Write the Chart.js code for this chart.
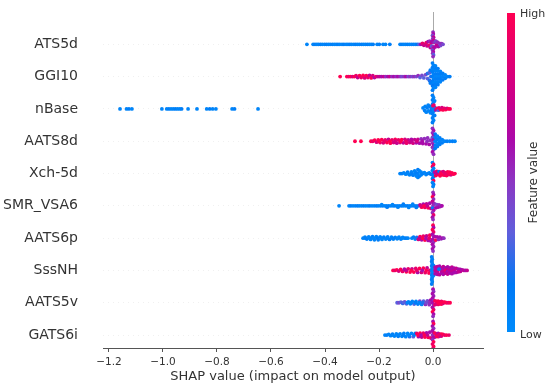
<!DOCTYPE html>
<html>
<head>
<meta charset="utf-8">
<script src="https://cdn.jsdelivr.net/npm/chart.js@4.4.1/dist/chart.umd.min.js"></script>
<style>
  body { margin: 0; background: #fff; }
  #wrap { width: 550px; height: 388px; }
</style>
</head>
<body>
<div id="wrap"><canvas id="shapChart" width="550" height="388"></canvas></div>
<script>
// features, top to bottom
const features = ['ATS5d', 'GGI10', 'nBase', 'AATS8d', 'Xch-5d', 'SMR_VSA6', 'AATS6p', 'SssNH', 'AATS5v', 'GATS6i'];
const xTicks = [-1.2, -1.0, -0.8, -0.6, -0.4, -0.2, 0.0];

// each point: [shap value, vertical jitter (rows), feature value 0..1]
const ATS5d = [
  [-0.467,0,0.05],
  [-0.444,0,0.05],[-0.437,0,0.1],[-0.430,0,0.05],[-0.424,0,0.05],[-0.417,0,0.1],[-0.410,0,0.05],[-0.402,0,0.05],[-0.395,0,0.1],
  [-0.388,0,0.05],[-0.381,0,0.05],[-0.373,0,0.1],[-0.366,0,0.05],[-0.359,0,0.05],[-0.352,0,0.1],[-0.345,0,0.05],[-0.337,0,0.05],
  [-0.330,0,0.1],[-0.322,0,0.05],[-0.315,0,0.05],[-0.308,0,0.1],[-0.301,0,0.05],[-0.293,0,0.05],[-0.286,0,0.1],[-0.279,0,0.05],
  [-0.272,0,0.05],[-0.264,0,0.1],[-0.257,0,0.05],[-0.250,0,0.05],[-0.243,0,0.1],[-0.236,0,0.05],[-0.229,0,0.05],[-0.222,0,0.1],
  [-0.207,0,0.05],[-0.199,0,0.1],[-0.185,0,0.05],[-0.176,0,0.05],[-0.160,0,0.1],
  [-0.122,0,0.05],[-0.115,0,0.1],[-0.108,0,0.05],[-0.101,0,0.05],[-0.094,0,0.1],[-0.087,0,0.05],[-0.080,0,0.05],[-0.073,0,0.1],
  [-0.066,0,0.05],[-0.059,0,0.15],[-0.052,0,0.3],[-0.045,0,0.6],[-0.039,0.03,0.9],[-0.034,-0.03,0.7],
  [-0.030,0,0.8],[-0.025,0.05,0.9],[-0.022,-0.05,0.7],[-0.018,0.08,0.6],[-0.015,-0.03,0.9],[-0.012,0.1,0.5],[-0.010,-0.1,0.7],
  [-0.007,0.04,0.8],[-0.005,-0.06,0.3],
  [0.000,0.38,0.5],[0.001,0.32,0.6],[-0.002,0.27,0.4],[0.002,0.22,0.7],[-0.001,0.17,0.5],[0.003,0.12,0.8],[-0.003,0.08,0.6],
  [0.000,-0.08,0.5],[0.002,-0.13,0.7],[-0.002,-0.18,0.4],[0.001,-0.23,0.6],[-0.001,-0.28,0.5],[0.002,-0.33,0.3],[0.000,-0.38,0.5],
  [0.005,0.06,0.5],[0.008,-0.08,0.6],[0.010,0.1,0.4],[0.013,-0.02,0.7],[0.016,0.07,0.5],[0.020,-0.07,0.6],[0.024,0.03,0.5],
  [0.028,-0.04,0.4],[0.032,0.02,0.5],[0.037,0,0.4]
];
const GGI10 = [
  [-0.344,0,1],[-0.319,0,1],[-0.312,0,0.9],[-0.305,0,1],[-0.298,0,0.8],[-0.291,0,1],[-0.285,0.03,0.9],[-0.279,-0.03,0.7],
  [-0.272,0.03,1],[-0.266,-0.03,0.9],[-0.259,0.04,1],[-0.253,-0.04,0.8],[-0.247,0.03,1],[-0.241,-0.03,0.9],[-0.235,0.04,0.7],
  [-0.229,-0.04,1],[-0.223,0.03,0.8],[-0.217,-0.03,0.6],[-0.211,0,0.9],[-0.204,0,0.7],
  [-0.197,0,0.7],[-0.190,0,0.6],[-0.182,0,0.7],[-0.175,0,0.5],[-0.167,0,0.6],[-0.160,0,0.7],[-0.152,0,0.5],[-0.145,0,0.6],
  [-0.137,0,0.5],[-0.130,0,0.6],[-0.122,0,0.5],[-0.115,0,0.4],[-0.107,0,0.5],[-0.100,0,0.6],[-0.092,0,0.4],[-0.085,0,0.5],
  [-0.077,0,0.4],[-0.070,0,0.5],[-0.062,0,0.4],[-0.055,0.03,0.5],[-0.048,-0.03,0.3],[-0.041,0.04,0.4],[-0.034,-0.04,0.3],
  [-0.027,0.06,0.4],[-0.020,-0.06,0.3],[-0.020,0.1,0.2],[-0.013,0.12,0.3],[-0.013,-0.12,0.2],[-0.010,0.2,0.1],[-0.010,-0.2,0.1],
  [-0.008,0,0.2],
  [-0.002,0.42,0.1],[0.002,0.35,0.05],[-0.002,0.28,0.1],[0.002,0.21,0.05],[-0.002,0.14,0.1],[0.002,0.07,0.05],[-0.002,0,0.1],
  [0.002,-0.07,0.05],[-0.002,-0.14,0.1],[0.002,-0.21,0.05],[-0.002,-0.28,0.15],[0.002,-0.35,0.05],[-0.002,-0.42,0.1],
  [0.009,0.33,0.05],[0.009,0.25,0.1],[0.009,0.17,0.05],[0.009,0.08,0.1],[0.009,0,0.05],[0.009,-0.08,0.1],[0.009,-0.17,0.05],
  [0.009,-0.25,0.1],[0.009,-0.33,0.05],
  [0.018,0.25,0.1],[0.018,0.17,0.05],[0.018,0.08,0.1],[0.018,0,0.05],[0.018,-0.08,0.1],[0.018,-0.17,0.05],[0.018,-0.25,0.1],
  [0.027,0.16,0.05],[0.027,0.08,0.1],[0.027,0,0.05],[0.027,-0.08,0.1],[0.027,-0.16,0.05],
  [0.036,0.1,0.1],[0.036,0,0.05],[0.036,-0.1,0.1],[0.045,0.05,0.05],[0.045,-0.05,0.1],[0.054,0,0.05],[0.062,0,0.1]
];
const nBase = [
  [-1.159,0,0.05],[-1.135,0,0.05],[-1.126,0,0.1],[-1.115,0,0.05],[-1.004,0,0.05],[-0.986,0,0.05],[-0.978,0,0.1],[-0.970,0,0.05],
  [-0.962,0,0.05],[-0.954,0,0.1],[-0.946,0,0.05],[-0.938,0,0.05],[-0.931,0,0.1],[-0.907,0,0.05],[-0.874,0,0.05],[-0.838,0,0.05],
  [-0.827,0,0.1],[-0.816,0,0.05],[-0.804,0,0.05],[-0.744,0,0.05],[-0.735,0,0.1],[-0.648,0,0.05],
  [-0.037,0.03,0.05],[-0.031,-0.05,0.1],[-0.029,0.08,0.05],[-0.025,-0.1,0.05],[-0.022,0.03,0.1],[-0.018,0.12,0.05],
  [-0.016,-0.06,0.05],[-0.012,0.08,0.1],[-0.010,-0.12,0.05],[-0.006,0.02,0.05],[-0.005,-0.04,0.15],
  [-0.002,0.42,0.1],[0.002,0.35,0.05],[-0.002,0.28,0.1],[0.002,0.21,0.05],[-0.002,0.14,0.1],[0.001,0.07,0.15],
  [-0.002,0,0.1],[0.002,-0.07,0.05],[-0.002,-0.14,0.1],[0.002,-0.21,0.05],[-0.002,-0.28,0.1],[0.002,-0.35,0.05],
  [-0.002,-0.42,0.1],[0.006,0.25,0.05],[0.006,-0.2,0.1],[0.006,0.05,0.2],[0.000,0.1,1],[0.003,0.12,0.9],
  [0.010,-0.03,0.6],[0.015,0.02,1],[0.020,-0.04,0.3],[0.022,0.03,0.9],[0.028,-0.02,1],[0.033,0.04,0.8],[0.037,-0.03,1],
  [0.042,0.02,0.9],[0.047,-0.02,1],[0.052,0.02,0.8],[0.057,0,1],[0.063,0,1]
];
const AATS8d = [
  [-0.289,0,1],[-0.267,0,1],
  [-0.230,0,1],[-0.223,0,0.9],[-0.216,0.03,1],[-0.209,-0.03,0.8],[-0.203,0.04,1],[-0.196,-0.04,0.9],[-0.190,0.05,1],
  [-0.184,-0.05,0.8],[-0.177,0.04,0.9],[-0.171,-0.04,1],[-0.165,0.06,0.7],[-0.158,-0.06,1],[-0.152,0.04,0.9],[-0.146,-0.04,0.8],
  [-0.140,0.06,1],[-0.134,-0.06,0.7],[-0.128,0.04,0.9],[-0.122,-0.04,0.8],[-0.116,0.05,1],[-0.110,-0.05,0.7],[-0.104,0.06,0.8],
  [-0.098,-0.06,0.9],[-0.092,0.04,0.7],[-0.086,-0.04,0.8],[-0.080,0.06,0.6],[-0.074,-0.06,0.8],[-0.068,0.05,0.7],
  [-0.062,-0.05,0.6],[-0.056,0.06,0.7],[-0.050,-0.06,0.6],[-0.044,0.07,0.5],[-0.038,-0.07,0.6],[-0.032,0.08,0.5],
  [-0.026,-0.08,0.6],[-0.020,0.1,0.5],[-0.014,-0.1,0.6],[-0.010,0.03,0.5],
  [-0.200,0,1],[-0.180,0,0.9],[-0.160,0,1],[-0.140,0,0.8],[-0.120,0,1],[-0.100,0,0.9],[-0.080,0,0.7],[-0.060,0,0.8],
  [-0.040,0,0.6],[-0.022,0,0.5],
  [-0.002,0.40,0.5],[0.002,0.33,0.6],[-0.002,0.26,0.5],[0.002,0.19,0.6],[-0.002,0.12,0.4],[0.002,0.05,0.6],[-0.002,-0.05,0.5],
  [0.002,-0.12,0.6],[-0.002,-0.19,0.5],[0.002,-0.26,0.4],[-0.002,-0.33,0.6],[0.002,-0.40,0.5],
  [0.008,0.22,0.15],[0.008,0.12,0.1],[0.008,0,0.05],[0.008,-0.12,0.1],[0.008,-0.22,0.15],[0.016,0.16,0.05],[0.016,0.06,0.1],
  [0.016,-0.06,0.05],[0.016,-0.16,0.1],[0.025,0.1,0.1],[0.025,0,0.05],[0.025,-0.1,0.1],[0.034,0.05,0.05],[0.034,-0.05,0.1],
  [0.043,0,0.05],[0.052,0,0.1],[0.062,0,0.05],[0.072,0,0.1],[0.081,0,0.05]
];
const Xch5d = [
  [-0.122,0,0.05],[-0.115,0,0.1],[-0.108,0.02,0.05],[-0.101,-0.02,0.05],[-0.094,0.04,0.1],[-0.087,-0.04,0.05],[-0.080,0.05,0.05],
  [-0.074,-0.05,0.1],[-0.068,0.08,0.05],[-0.062,-0.08,0.05],[-0.056,0.12,0.1],[-0.056,-0.12,0.05],[-0.056,0,0.05],
  [-0.050,0.08,0.05],[-0.050,-0.08,0.1],[-0.044,0.04,0.05],[-0.044,-0.04,0.05],[-0.038,0,0.1],[-0.032,0.03,0.05],
  [-0.026,-0.03,0.05],[-0.020,0,0.1],[-0.014,0.02,0.05],[-0.008,-0.02,0.15],[-0.080,0,0.1],[-0.068,0,0.05],[-0.094,0,0.05],
  [-0.062,0.02,0.1],
  [-0.002,0.34,0.05],[0.002,0.28,1],[-0.002,0.22,0.9],[0.002,0.16,0.05],[-0.002,0.10,0.1],[0.002,0.04,0.05],[-0.002,-0.04,0.1],
  [0.002,-0.10,0.05],[-0.002,-0.16,0.15],[0.002,-0.22,1],[-0.002,-0.28,0.05],[0.002,-0.34,0.1],[0.000,-0.40,0.05],
  [0.006,0.04,0.6],[0.010,-0.06,1],[0.014,0.07,0.9],[0.018,-0.03,1],[0.022,0.06,0.1],[0.026,-0.07,1],[0.030,0.04,0.9],
  [0.034,-0.04,1],[0.038,0.06,0.8],[0.042,-0.05,1],[0.046,0.03,0.9],[0.050,-0.06,1],[0.054,0.05,1],[0.058,-0.03,0.9],
  [0.062,0.04,1],[0.066,-0.04,0.8],[0.070,0.02,1],[0.075,-0.02,1],[0.081,0,1],[0.012,0,0.7],[0.028,0,1],[0.044,0,0.9],[0.060,0,1]
];
const SMR_VSA6 = [
  [-0.348,0,0.05],
  [-0.311,0,0.05],[-0.304,0,0.1],[-0.296,0,0.05],[-0.288,0,0.05],[-0.280,0,0.1],[-0.273,0,0.05],[-0.265,0,0.05],[-0.257,0,0.1],
  [-0.249,0,0.05],[-0.241,0,0.05],[-0.234,0,0.1],[-0.226,0,0.05],[-0.218,0,0.05],[-0.210,0,0.1],[-0.203,0,0.05],[-0.195,0,0.05],
  [-0.187,0,0.1],[-0.179,0,0.05],[-0.172,0,0.05],[-0.164,0,0.1],[-0.156,0,0.05],[-0.148,0,0.05],[-0.141,0,0.1],[-0.133,0,0.05],
  [-0.125,0,0.05],[-0.117,0,0.1],[-0.110,0,0.05],[-0.102,0,0.05],[-0.094,0,0.1],[-0.086,0,0.05],[-0.079,0,0.05],[-0.071,0,0.1],
  [-0.063,0,0.05],[-0.055,0,0.2],
  [-0.190,0.04,0.05],[-0.170,-0.04,0.1],[-0.150,0.04,0.05],[-0.130,-0.04,0.05],[-0.110,0.05,0.1],[-0.090,-0.05,0.05],
  [-0.075,0.05,0.05],[-0.062,-0.05,0.1],
  [-0.048,0.03,0.7],[-0.042,-0.04,1],[-0.036,0.05,0.6],[-0.030,-0.05,0.9],[-0.024,0.06,0.7],[-0.018,-0.06,1],[-0.012,0.08,0.6],
  [-0.008,-0.08,0.8],[-0.045,0,0.8],[-0.033,0,1],[-0.021,0,0.7],
  [0.000,0.42,0.5],[0.002,0.35,0.6],[-0.002,0.28,1],[0.002,0.21,0.5],[-0.002,0.14,0.7],[0.002,0.07,0.6],[0.000,0,0.5],
  [-0.002,-0.07,0.1],[0.002,-0.14,0.6],[-0.002,-0.21,0.5],[0.002,-0.28,0.9],[-0.002,-0.35,0.6],[0.000,-0.42,0.5],
  [0.006,0.06,0.5],[0.010,-0.06,0.6],[0.014,0.04,0.4],[0.018,-0.04,0.6],[0.022,0.03,0.5],[0.026,-0.02,0.6],[0.030,0,0.5],
  [0.033,0,0.6]
];
const AATS6p = [
  [-0.259,0,0.05],[-0.252,0.03,0.05],[-0.245,-0.03,0.1],[-0.238,0.04,0.05],[-0.231,-0.04,0.05],[-0.224,0.05,0.1],
  [-0.217,-0.05,0.05],[-0.210,0.05,0.05],[-0.203,-0.05,0.1],[-0.196,0.04,0.05],[-0.189,-0.04,0.05],[-0.182,0.03,0.1],
  [-0.175,-0.03,0.05],[-0.168,0.04,0.05],[-0.161,-0.04,0.1],[-0.154,0.03,0.05],[-0.147,-0.03,0.05],[-0.140,0.02,0.1],
  [-0.133,-0.02,0.05],[-0.126,0.03,0.05],[-0.119,-0.03,0.1],[-0.112,0.02,0.05],[-0.105,0,0.05],[-0.099,0,0.1],[-0.093,0,0.05],
  [-0.250,0,0.1],[-0.235,0,0.05],[-0.220,0,0.05],[-0.205,0,0.1],[-0.190,0,0.05],[-0.170,0,0.05],[-0.150,0,0.1],[-0.130,0,0.05],
  [-0.115,0,0.05],
  [-0.078,0,0.05],[-0.072,0.03,0.1],[-0.066,-0.03,0.05],[-0.060,0.02,0.2],[-0.054,-0.04,0.8],[-0.048,0.05,1],[-0.042,-0.05,0.6],
  [-0.036,0.06,0.9],[-0.030,-0.06,1],[-0.024,0.07,0.7],[-0.018,-0.07,0.6],[-0.012,0.09,1],[-0.008,-0.09,0.6],[-0.050,0,0.7],
  [-0.038,0,1],[-0.026,0,0.6],[-0.014,0,0.9],
  [0.000,0.40,1],[0.002,0.33,0.6],[-0.002,0.26,1],[0.002,0.19,0.9],[-0.002,0.12,0.6],[0.002,0.05,0.5],[-0.002,-0.05,0.6],
  [0.002,-0.12,0.5],[-0.002,-0.19,0.6],[0.002,-0.26,0.55],[-0.002,-0.33,0.6],[0.000,-0.40,0.5],
  [0.006,0.05,0.6],[0.010,-0.06,1],[0.015,0.04,0.6],[0.020,-0.04,0.5],[0.025,0.03,0.6],[0.030,-0.02,0.5],[0.035,0,0.6],
  [0.040,0,0.5]
];
const SssNH = [
  [-0.148,0,1],[-0.141,0,0.9],[-0.134,0.02,1],[-0.127,-0.02,0.8],[-0.120,0.03,1],[-0.113,-0.03,0.9],[-0.106,0.04,0.6],
  [-0.099,-0.04,1],[-0.092,0.05,0.9],[-0.085,-0.05,1],[-0.078,0.05,0.7],[-0.071,-0.05,1],[-0.064,0.06,0.9],[-0.057,-0.06,0.6],
  [-0.050,0.06,1],[-0.043,-0.06,0.8],[-0.036,0.07,1],[-0.029,-0.07,0.9],[-0.022,0.08,0.7],[-0.015,-0.08,1],[-0.100,0,0.7],
  [-0.080,0,1],[-0.060,0,0.9],[-0.040,0,0.6],[-0.025,0,1],[-0.012,0,0.9],
  [-0.005,0.42,0.1],[-0.003,0.35,0.05],[-0.005,0.28,0.1],[-0.003,0.21,0.05],[-0.005,0.14,0.1],[-0.003,0.07,0.05],[-0.005,0,0.1],
  [-0.003,-0.07,0.05],[-0.005,-0.14,0.1],[-0.003,-0.21,0.05],[-0.005,-0.28,0.1],[-0.003,-0.35,0.05],[-0.005,-0.42,0.1],
  [0.002,0.15,0.1],[0.002,-0.15,0.05],[0.002,0,0.05],
  [0.008,0.10,0.6],[0.008,0,0.7],[0.008,-0.10,0.6],[0.016,0.12,0.7],[0.016,0.04,0.6],[0.016,-0.04,0.7],[0.016,-0.12,0.6],
  [0.024,0.13,0.6],[0.024,-0.13,0.7],[0.030,0.08,0.6],[0.030,0,0.7],[0.030,-0.08,0.6],[0.038,0.12,0.7],[0.038,0.04,0.6],
  [0.038,-0.04,0.7],[0.038,-0.12,0.6],[0.046,0.08,0.6],[0.046,0,0.9],[0.046,-0.08,0.7],[0.054,0.11,0.6],[0.054,0.03,0.7],
  [0.054,-0.03,0.6],[0.054,-0.11,0.7],[0.062,0.08,0.6],[0.062,0,0.7],[0.062,-0.08,0.6],[0.070,0.1,0.7],[0.070,0.03,0.6],
  [0.070,-0.03,0.7],[0.070,-0.1,0.6],[0.078,0.07,0.6],[0.078,0,0.7],[0.078,-0.07,0.6],[0.086,0.06,0.7],[0.086,-0.06,0.6],
  [0.094,0.04,0.6],[0.094,-0.04,0.7],[0.101,0.03,0.6],[0.101,-0.03,0.7],[0.108,0.02,0.6],[0.114,0,0.7],[0.120,0,0.6],
  [0.126,0,0.7],[0.022,0.04,0.1]
];
const AATS5v = [
  [-0.133,0,0.3],[-0.126,0,0.4],[-0.119,0.02,0.3],[-0.112,-0.02,0.2],[-0.105,0.03,0.4],[-0.098,-0.03,0.3],[-0.091,0.03,0.05],
  [-0.084,-0.03,0.1],[-0.077,0.04,0.05],[-0.070,-0.04,0.3],[-0.063,0.04,0.05],[-0.056,-0.04,0.1],[-0.049,0.05,0.4],
  [-0.042,-0.05,0.05],[-0.035,0.05,0.3],[-0.028,-0.05,0.5],[-0.021,0.06,0.4],[-0.014,-0.06,0.5],[-0.009,0.08,0.6],
  [-0.110,0,0.3],[-0.095,0,0.05],[-0.080,0,0.05],[-0.065,0,0.1],[-0.050,0,0.05],[-0.038,0,0.2],[-0.025,0,0.4],[-0.012,0,0.5],
  [0.000,0.42,0.6],[0.002,0.35,0.5],[-0.002,0.28,0.6],[0.002,0.21,0.55],[-0.002,0.14,0.6],[0.002,0.07,0.5],[-0.002,0,0.6],
  [0.002,-0.07,0.5],[-0.002,-0.14,0.6],[0.002,-0.21,0.9],[-0.002,-0.28,1],[0.002,-0.35,0.6],[0.000,-0.42,0.5],
  [0.007,0.06,1],[0.007,-0.06,0.9],[0.013,0.04,1],[0.013,-0.04,0.8],[0.019,0.05,1],[0.019,-0.05,0.9],[0.025,0.03,1],
  [0.025,-0.03,1],[0.031,0.04,0.9],[0.031,-0.04,1],[0.037,0.02,1],[0.037,-0.02,0.8],[0.043,0.02,1],[0.049,0,1],[0.056,0,0.9],
  [0.063,0,1],[0.019,0,1],[0.031,0,1]
];
const GATS6i = [
  [-0.178,0,0.05],[-0.171,0,0.1],[-0.164,0.02,0.05],[-0.157,-0.02,0.05],[-0.150,0.03,0.1],[-0.143,-0.03,0.05],[-0.136,0.04,0.05],
  [-0.129,-0.04,0.1],[-0.122,0.04,0.05],[-0.115,-0.04,0.05],[-0.108,0.05,0.1],[-0.101,-0.05,0.05],[-0.094,0.05,0.05],
  [-0.087,-0.05,0.2],[-0.080,0.05,0.05],[-0.073,-0.05,0.3],[-0.066,0.05,0.1],[-0.150,0,0.05],[-0.130,0,0.05],[-0.110,0,0.1],
  [-0.090,0,0.05],[-0.070,0,0.1],
  [-0.060,0.05,0.9],[-0.054,-0.05,0.6],[-0.048,0.06,1],[-0.042,-0.06,0.7],[-0.036,0.06,0.9],[-0.030,-0.06,1],[-0.024,0.07,0.6],
  [-0.018,-0.07,1],[-0.012,0.09,0.6],[-0.008,-0.09,0.9],[-0.056,0,1],[-0.044,0,0.6],[-0.032,0,1],[-0.020,0,0.7],
  [0.000,0.42,0.6],[0.002,0.35,1],[-0.002,0.28,0.6],[0.002,0.21,0.5],[-0.002,0.14,0.6],[0.002,0.07,0.7],[-0.002,0,0.5],
  [0.002,-0.07,0.6],[-0.002,-0.14,0.5],[0.002,-0.21,1],[-0.002,-0.28,0.9],[0.002,-0.35,1],[0.000,-0.42,0.9],
  [0.007,0.06,1],[0.007,-0.06,0.6],[0.013,0.04,0.9],[0.013,-0.04,1],[0.019,0.05,0.6],[0.019,-0.05,1],[0.025,0.03,0.9],
  [0.025,-0.03,0.6],[0.031,0.03,1],[0.031,-0.03,0.8],[0.037,0.02,1],[0.043,0,0.9],[0.050,0,1],[0.059,0,0.9],[0.019,0,0.9]
];

const series = [ATS5d, GGI10, nBase, AATS8d, Xch5d, SMR_VSA6, AATS6p, SssNH, AATS5v, GATS6i];

// shap red_blue colormap, approximated
const cmap = [
  [0.00, [0, 139, 251]],
  [0.15, [0, 120, 245]],
  [0.31, [95, 95, 220]],
  [0.47, [140, 55, 195]],
  [0.60, [170, 10, 170]],
  [0.72, [200, 0, 140]],
  [0.88, [230, 0, 110]],
  [1.00, [255, 0, 82]]
];

function colorFor(t) {
  for (let i = 1; i < cmap.length; i++) {
    if (t <= cmap[i][0]) {
      const [t0, a] = cmap[i - 1];
      const [t1, b] = cmap[i];
      const f = (t - t0) / (t1 - t0);
      const c = a.map((v, k) => Math.round(v + (b[k] - v) * f));
      return `rgb(${c[0]},${c[1]},${c[2]})`;
    }
  }
  return 'rgb(255,0,82)';
}

const n = features.length;
const datasets = series.map((pts, i) => {
  const row = n - 1 - i;
  return {
    label: features[i],
    data: pts.map(p => ({ x: p[0], y: row + p[1] })),
    backgroundColor: pts.map(p => colorFor(p[2])),
    borderWidth: 0,
    pointRadius: 1.9,
    pointHoverRadius: 1.9
  };
});

const fontFamily = '"DejaVu Sans", sans-serif';

// colour bar on the right
const colorBar = {
  id: 'colorBar',
  afterDraw(chart) {
    const ctx = chart.ctx;
    const area = chart.chartArea;
    const x = area.right + 24;
    const top = area.top + 1;
    const bottom = area.bottom - 16;
    const grad = ctx.createLinearGradient(0, bottom, 0, top);
    cmap.forEach(s => grad.addColorStop(s[0], colorFor(s[0])));
    ctx.save();
    ctx.fillStyle = grad;
    ctx.fillRect(x, top, 8, bottom - top);
    ctx.fillStyle = '#333';
    ctx.font = '11px ' + fontFamily;
    ctx.textAlign = 'left';
    ctx.textBaseline = 'middle';
    ctx.fillText('High', x + 13, top + 1);
    ctx.fillText('Low', x + 13, bottom + 3);
    ctx.translate(x + 27, (top + bottom) / 2 + 10);
    ctx.rotate(-Math.PI / 2);
    ctx.textAlign = 'center';
    ctx.font = '12px ' + fontFamily;
    ctx.fillText('Feature value', 0, 0);
    ctx.restore();
  }
};

const ctx = document.getElementById('shapChart');

new Chart(ctx, {
  type: 'scatter',
  data: { datasets },
  options: {
    responsive: false,
    animation: false,
    events: [],
    layout: { padding: { top: 12, right: 67, left: 0, bottom: 0 } },
    plugins: {
      legend: { display: false },
      tooltip: { enabled: false }
    },
    scales: {
      x: {
        min: -1.222,
        max: 0.185,
        afterBuildTicks: axis => { axis.ticks = xTicks.map(v => ({ value: v })); },
        afterFit: axis => { axis.height = 40; },
        ticks: {
          color: '#333',
          font: { family: fontFamily, size: 10.5 },
          padding: 4,
          maxRotation: 0,
          callback: v => (v < 0 ? '\u2212' + Math.abs(v).toFixed(1) : v.toFixed(1))
        },
        grid: {
          drawOnChartArea: true,
          color: c => (c.tick && c.tick.value === 0 ? '#aaa' : 'rgba(0,0,0,0)'),
          lineWidth: 1,
          tickColor: '#555',
          tickLength: 4
        },
        border: { display: true, color: '#555', width: 1 },
        title: {
          display: true,
          text: 'SHAP value (impact on model output)',
          color: '#333',
          font: { family: fontFamily, size: 13 },
          padding: { top: 0, bottom: 4 }
        }
      },
      y: {
        min: -0.4,
        max: 10,
        afterBuildTicks: axis => { axis.ticks = features.map((f, i) => ({ value: n - 1 - i })); },
        afterFit: axis => {
          axis.width = 103;
          axis.paddingTop = 0;
          axis.paddingBottom = 0;
        },
        ticks: {
          color: '#333',
          font: { family: fontFamily, size: 14 },
          padding: 25,
          callback: v => features[n - 1 - v]
        },
        grid: {
          color: '#e6e6e6',
          lineWidth: 0.6,
          drawTicks: false
        },
        border: { display: false, dash: [1, 4] }
      }
    }
  },
  plugins: [colorBar]
});
</script>
</body>
</html>
